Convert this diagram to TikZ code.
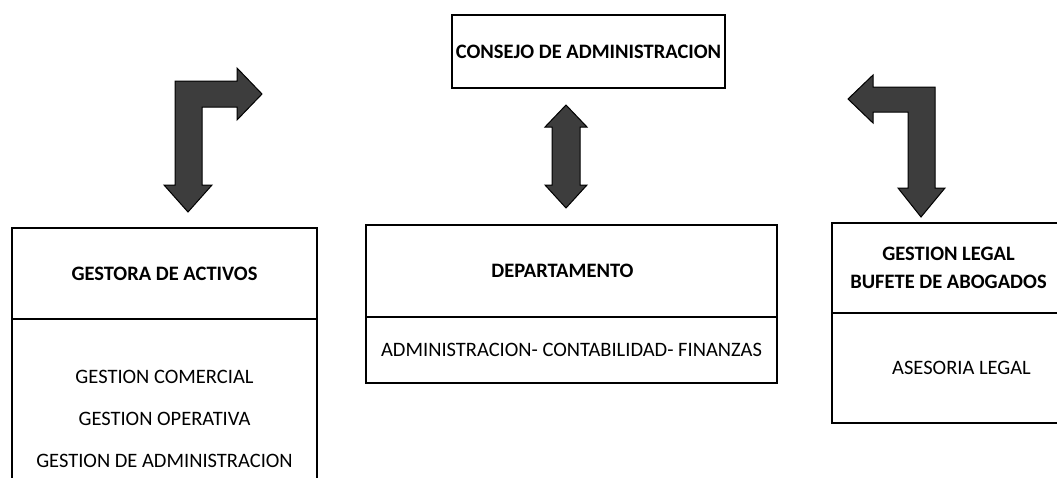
\documentclass[tikz,border=0pt]{standalone}
\usepackage{fontspec}
\setmainfont{Carlito}
\usetikzlibrary{positioning}

\begin{document}
\begin{tikzpicture}[x=1pt, y=1pt, box/.style={draw, line width=1.6pt, rectangle, inner sep=0pt, outer sep=0pt, align=center, font=\fontsize{20.5}{24}\selectfont}, headbox/.style={box, font=\bfseries\fontsize{20.5}{28}\selectfont}, blockarrow/.style={draw=black, line width=1pt, line join=miter, fill=black!76}]
  \useasboundingbox (0,0) rectangle (1057,-477);
  \clip (0,0) rectangle (1057,-477);

  \draw (588.5, -51.5)node[headbox, minimum width=273pt, minimum height=73pt](consejo){CONSEJO DE ADMINISTRACION};

  \draw (164.5, -273.5)node[headbox, minimum width=305pt, minimum height=91pt](gestora){GESTORA DE ACTIVOS};
  \node[box, below=0pt of gestora, minimum width=305pt, minimum height=200pt, font=\fontsize{20.5}{42}\selectfont](gestion){GESTION COMERCIAL\\GESTION OPERATIVA\\GESTION DE ADMINISTRACION};

  \draw (571.5, -271.0)node[headbox, minimum width=411pt, minimum height=92pt](depto){DEPARTAMENTO\hspace*{18pt}};
  \node[box, below=0pt of depto, minimum width=411pt, minimum height=66pt](finanzas){ADMINISTRACION- CONTABILIDAD- FINANZAS};

  \draw (948.5, -268.0)node[headbox, minimum width=233pt, minimum height=90pt](legal){GESTION LEGAL\\BUFETE DE ABOGADOS};
  \node[box, below=0pt of legal, minimum width=233pt, minimum height=110pt](asesoria){\hspace*{26pt}ASESORIA LEGAL};

  % block arrows
  \draw[blockarrow] (175,-185) -- (175,-81) -- (237,-81) -- (237,-68) -- (262,-94) -- (237,-120) -- (237,-107) -- (202,-107) -- (202,-185) -- (212,-185) -- (188,-212) -- (164,-185) -- cycle;
  \draw[blockarrow] (566,-105) -- (587,-127) -- (580,-127) -- (580,-185) -- (587,-185) -- (566,-208) -- (545,-185) -- (552,-185) -- (552,-127) -- (545,-127) -- cycle;
  \draw[blockarrow] (848,-99) -- (873,-75) -- (873,-87) -- (935,-87) -- (935,-188) -- (945,-188) -- (921,-217) -- (898,-188) -- (908,-188) -- (908,-112) -- (873,-112) -- (873,-123) -- cycle;
\end{tikzpicture}
\end{document}
